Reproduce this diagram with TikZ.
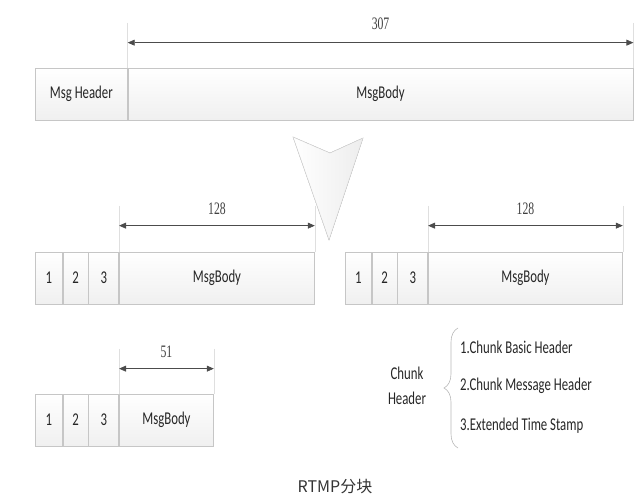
\documentclass[tikz,border=0pt]{standalone}
\usepackage{fontspec}
\newfontfamily\lblfont[FakeStretch=0.71]{Carlito}
\newfontfamily\numfont[FakeStretch=0.67]{Liberation Serif}
\newfontfamily\cjkfont{Noto Sans CJK SC}
\usetikzlibrary{calc,arrows.meta,decorations.pathreplacing}
\begin{document}
\begin{tikzpicture}[x=1pt,y=-1pt,
  cell/.style={draw=gray!45, line width=0.7pt, top color=white, bottom color=gray!12,
    minimum height=52pt, inner sep=0pt, anchor=west,
    font=\lblfont\fontsize{18}{20}\selectfont, text=black!85},
  dim/.style={draw=black!70, line width=0.7pt,
    {Triangle[length=7pt,width=6pt]}-{Triangle[length=7pt,width=6pt]}},
  ext/.style={draw=gray!25, line width=0.5pt},
  num/.style={font=\numfont\fontsize{17.5}{18}\selectfont, text=black!75, inner sep=0pt},
  txt/.style={font=\lblfont\fontsize{18}{25}\selectfont, text=black!85, inner sep=0pt}]
\useasboundingbox (0,0) rectangle (640,500);

% top message
\node[cell, minimum width=92pt] (mh) at (35,94) {Msg Header};
\node[cell, minimum width=505pt] (mb) at (mh.east) {MsgBody};
\coordinate (a1) at ($(mb.north west)+(0,-25)$);
\coordinate (b1) at ($(mb.north east)+(0,-25)$);
\draw[ext] ($(a1)+(0,-20)$) -- (mb.north west);
\draw[ext] ($(b1)+(0,-20)$) -- (mb.north east);
\draw[dim] (a1) -- (b1);
\node[num] at ($(a1)!0.5!(b1)+(0,-19)$) {307};

% big arrow
\filldraw[draw=gray!30, line width=0.6pt, left color=white, right color=gray!14]
  (293,137) -- (330,153) -- (363,138) -- (329,240) -- cycle;

% chunk row 2 left
\node[cell, minimum width=27pt] (l1) at (35,278) {1};
\node[cell, minimum width=25pt] (l2) at (l1.east) {2};
\node[cell, minimum width=30pt] (l3) at (l2.east) {3};
\node[cell, minimum width=195pt] (lb) at (l3.east) {MsgBody};
\coordinate (a2) at ($(lb.north west)+(0,-26)$);
\coordinate (b2) at ($(lb.north east)+(0,-26)$);
\draw[ext] ($(a2)+(0,-20)$) -- (lb.north west);
\draw[ext] ($(b2)+(0,-20)$) -- (lb.north east);
\draw[dim] (a2) -- (b2);
\node[num] at ($(a2)!0.5!(b2)+(0,-17)$) {128};

% chunk row 2 right
\node[cell, minimum width=26pt] (r1) at (345,278) {1};
\node[cell, minimum width=25pt] (r2) at (r1.east) {2};
\node[cell, minimum width=30pt] (r3) at (r2.east) {3};
\node[cell, minimum width=194pt] (rb) at (r3.east) {MsgBody};
\coordinate (a3) at ($(rb.north west)+(0,-26)$);
\coordinate (b3) at ($(rb.north east)+(0,-26)$);
\draw[ext] ($(a3)+(0,-20)$) -- (rb.north west);
\draw[ext] ($(b3)+(0,-20)$) -- (rb.north east);
\draw[dim] (a3) -- (b3);
\node[num] at ($(a3)!0.5!(b3)+(0,-17)$) {128};

% chunk row 3
\node[cell, minimum width=27pt] (s1) at (35,420) {1};
\node[cell, minimum width=25pt] (s2) at (s1.east) {2};
\node[cell, minimum width=30pt] (s3) at (s2.east) {3};
\node[cell, minimum width=94pt] (sb) at (s3.east) {MsgBody};
\coordinate (a4) at ($(sb.north west)+(0,-25)$);
\coordinate (b4) at ($(sb.north east)+(0,-25)$);
\draw[ext] ($(a4)+(0,-20)$) -- (sb.north west);
\draw[ext] ($(b4)+(0,-20)$) -- (sb.north east);
\draw[dim] (a4) -- (b4);
\node[num] at ($(a4)!0.5!(b4)+(0,-17)$) {51};

% chunk header legend
\node[txt, align=center] (ch) at (407,386) {Chunk\\Header};
\draw[gray!55, line width=0.6pt, decorate, decoration={brace, amplitude=14pt}]
  (458,448) -- (458,328);
\node[txt, anchor=west] (i1) at (460,347) {1.Chunk Basic Header};
\node[txt, anchor=west] (i2) at (460,386) {2.Chunk Message Header};
\node[txt, anchor=west] (i3) at (460,426) {3.Extended Time Stamp};

\node[font=\cjkfont\fontsize{16}{18}\selectfont, text=black!80] (cap) at (335,487) {RTMP分块};
\end{tikzpicture}
\end{document}
